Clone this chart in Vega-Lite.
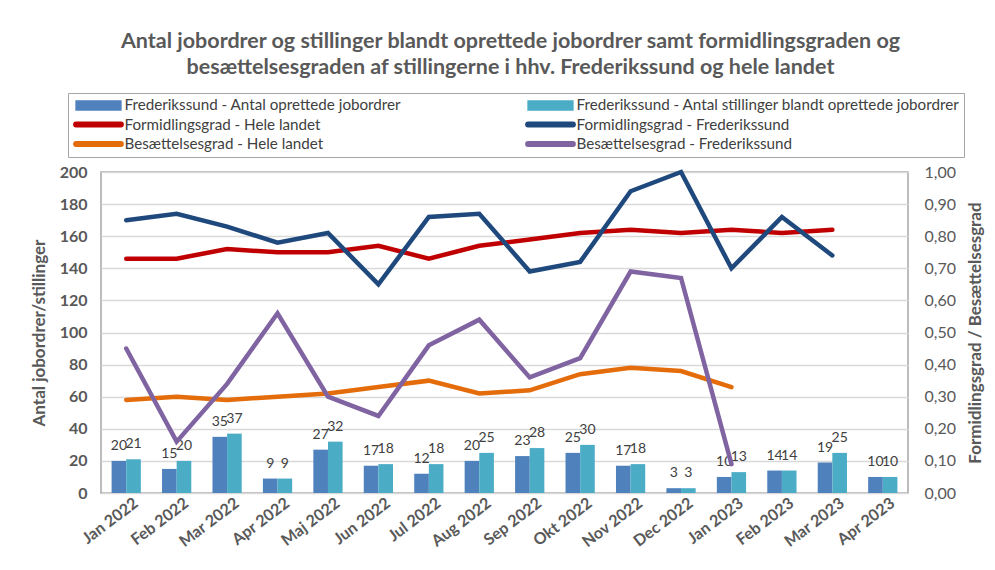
{
  "$schema": "https://vega.github.io/schema/vega-lite/v6.json",
  "width": 807,
  "height": 321,
  "autosize": "none",
  "padding": {"left": 101, "top": 172, "right": 87, "bottom": 77},
  "background": "white",
  "title": {
    "text": ["Antal jobordrer og stillinger blandt oprettede jobordrer samt formidlingsgraden  og", "besættelsesgraden af stillingerne i hhv. Frederikssund og hele landet"],
    "font": "Lato",
    "fontSize": 21.5,
    "fontWeight": "bold",
    "color": "#595959",
    "anchor": "middle",
    "lineHeight": 26,
    "offset": 14,
    "dx": 6
  },
  "config": {
    "font": "Lato",
    "view": {"stroke": "#a6a6a6", "strokeWidth": 1.5},
    "axis": {"labelColor": "#595959", "titleColor": "#595959", "labelFont": "Lato", "titleFont": "Lato"}
  },
  "datasets": {
    "bars": [
      {"m": "Jan 2022", "s": "Frederikssund - Antal oprettede jobordrer", "v": 20},
      {"m": "Feb 2022", "s": "Frederikssund - Antal oprettede jobordrer", "v": 15},
      {"m": "Mar 2022", "s": "Frederikssund - Antal oprettede jobordrer", "v": 35},
      {"m": "Apr 2022", "s": "Frederikssund - Antal oprettede jobordrer", "v": 9},
      {"m": "Maj 2022", "s": "Frederikssund - Antal oprettede jobordrer", "v": 27},
      {"m": "Jun 2022", "s": "Frederikssund - Antal oprettede jobordrer", "v": 17},
      {"m": "Jul 2022", "s": "Frederikssund - Antal oprettede jobordrer", "v": 12},
      {"m": "Aug 2022", "s": "Frederikssund - Antal oprettede jobordrer", "v": 20},
      {"m": "Sep 2022", "s": "Frederikssund - Antal oprettede jobordrer", "v": 23},
      {"m": "Okt 2022", "s": "Frederikssund - Antal oprettede jobordrer", "v": 25},
      {"m": "Nov 2022", "s": "Frederikssund - Antal oprettede jobordrer", "v": 17},
      {"m": "Dec 2022", "s": "Frederikssund - Antal oprettede jobordrer", "v": 3},
      {"m": "Jan 2023", "s": "Frederikssund - Antal oprettede jobordrer", "v": 10},
      {"m": "Feb 2023", "s": "Frederikssund - Antal oprettede jobordrer", "v": 14},
      {"m": "Mar 2023", "s": "Frederikssund - Antal oprettede jobordrer", "v": 19},
      {"m": "Apr 2023", "s": "Frederikssund - Antal oprettede jobordrer", "v": 10},
      {"m": "Jan 2022", "s": "Frederikssund - Antal stillinger blandt oprettede jobordrer", "v": 21},
      {"m": "Feb 2022", "s": "Frederikssund - Antal stillinger blandt oprettede jobordrer", "v": 20},
      {"m": "Mar 2022", "s": "Frederikssund - Antal stillinger blandt oprettede jobordrer", "v": 37},
      {"m": "Apr 2022", "s": "Frederikssund - Antal stillinger blandt oprettede jobordrer", "v": 9},
      {"m": "Maj 2022", "s": "Frederikssund - Antal stillinger blandt oprettede jobordrer", "v": 32},
      {"m": "Jun 2022", "s": "Frederikssund - Antal stillinger blandt oprettede jobordrer", "v": 18},
      {"m": "Jul 2022", "s": "Frederikssund - Antal stillinger blandt oprettede jobordrer", "v": 18},
      {"m": "Aug 2022", "s": "Frederikssund - Antal stillinger blandt oprettede jobordrer", "v": 25},
      {"m": "Sep 2022", "s": "Frederikssund - Antal stillinger blandt oprettede jobordrer", "v": 28},
      {"m": "Okt 2022", "s": "Frederikssund - Antal stillinger blandt oprettede jobordrer", "v": 30},
      {"m": "Nov 2022", "s": "Frederikssund - Antal stillinger blandt oprettede jobordrer", "v": 18},
      {"m": "Dec 2022", "s": "Frederikssund - Antal stillinger blandt oprettede jobordrer", "v": 3},
      {"m": "Jan 2023", "s": "Frederikssund - Antal stillinger blandt oprettede jobordrer", "v": 13},
      {"m": "Feb 2023", "s": "Frederikssund - Antal stillinger blandt oprettede jobordrer", "v": 14},
      {"m": "Mar 2023", "s": "Frederikssund - Antal stillinger blandt oprettede jobordrer", "v": 25},
      {"m": "Apr 2023", "s": "Frederikssund - Antal stillinger blandt oprettede jobordrer", "v": 10}
    ],
    "lines": [
      {"m": "Jan 2022", "s": "Formidlingsgrad - Hele landet", "v": 0.73},
      {"m": "Feb 2022", "s": "Formidlingsgrad - Hele landet", "v": 0.73},
      {"m": "Mar 2022", "s": "Formidlingsgrad - Hele landet", "v": 0.76},
      {"m": "Apr 2022", "s": "Formidlingsgrad - Hele landet", "v": 0.75},
      {"m": "Maj 2022", "s": "Formidlingsgrad - Hele landet", "v": 0.75},
      {"m": "Jun 2022", "s": "Formidlingsgrad - Hele landet", "v": 0.77},
      {"m": "Jul 2022", "s": "Formidlingsgrad - Hele landet", "v": 0.73},
      {"m": "Aug 2022", "s": "Formidlingsgrad - Hele landet", "v": 0.77},
      {"m": "Sep 2022", "s": "Formidlingsgrad - Hele landet", "v": 0.79},
      {"m": "Okt 2022", "s": "Formidlingsgrad - Hele landet", "v": 0.81},
      {"m": "Nov 2022", "s": "Formidlingsgrad - Hele landet", "v": 0.82},
      {"m": "Dec 2022", "s": "Formidlingsgrad - Hele landet", "v": 0.81},
      {"m": "Jan 2023", "s": "Formidlingsgrad - Hele landet", "v": 0.82},
      {"m": "Feb 2023", "s": "Formidlingsgrad - Hele landet", "v": 0.81},
      {"m": "Mar 2023", "s": "Formidlingsgrad - Hele landet", "v": 0.82},
      {"m": "Jan 2022", "s": "Formidlingsgrad - Frederikssund", "v": 0.85},
      {"m": "Feb 2022", "s": "Formidlingsgrad - Frederikssund", "v": 0.87},
      {"m": "Mar 2022", "s": "Formidlingsgrad - Frederikssund", "v": 0.83},
      {"m": "Apr 2022", "s": "Formidlingsgrad - Frederikssund", "v": 0.78},
      {"m": "Maj 2022", "s": "Formidlingsgrad - Frederikssund", "v": 0.81},
      {"m": "Jun 2022", "s": "Formidlingsgrad - Frederikssund", "v": 0.65},
      {"m": "Jul 2022", "s": "Formidlingsgrad - Frederikssund", "v": 0.86},
      {"m": "Aug 2022", "s": "Formidlingsgrad - Frederikssund", "v": 0.87},
      {"m": "Sep 2022", "s": "Formidlingsgrad - Frederikssund", "v": 0.69},
      {"m": "Okt 2022", "s": "Formidlingsgrad - Frederikssund", "v": 0.72},
      {"m": "Nov 2022", "s": "Formidlingsgrad - Frederikssund", "v": 0.94},
      {"m": "Dec 2022", "s": "Formidlingsgrad - Frederikssund", "v": 1.0},
      {"m": "Jan 2023", "s": "Formidlingsgrad - Frederikssund", "v": 0.70},
      {"m": "Feb 2023", "s": "Formidlingsgrad - Frederikssund", "v": 0.86},
      {"m": "Mar 2023", "s": "Formidlingsgrad - Frederikssund", "v": 0.74},
      {"m": "Jan 2022", "s": "Besættelsesgrad - Hele landet", "v": 0.29},
      {"m": "Feb 2022", "s": "Besættelsesgrad - Hele landet", "v": 0.30},
      {"m": "Mar 2022", "s": "Besættelsesgrad - Hele landet", "v": 0.29},
      {"m": "Apr 2022", "s": "Besættelsesgrad - Hele landet", "v": 0.30},
      {"m": "Maj 2022", "s": "Besættelsesgrad - Hele landet", "v": 0.31},
      {"m": "Jun 2022", "s": "Besættelsesgrad - Hele landet", "v": 0.33},
      {"m": "Jul 2022", "s": "Besættelsesgrad - Hele landet", "v": 0.35},
      {"m": "Aug 2022", "s": "Besættelsesgrad - Hele landet", "v": 0.31},
      {"m": "Sep 2022", "s": "Besættelsesgrad - Hele landet", "v": 0.32},
      {"m": "Okt 2022", "s": "Besættelsesgrad - Hele landet", "v": 0.37},
      {"m": "Nov 2022", "s": "Besættelsesgrad - Hele landet", "v": 0.39},
      {"m": "Dec 2022", "s": "Besættelsesgrad - Hele landet", "v": 0.38},
      {"m": "Jan 2023", "s": "Besættelsesgrad - Hele landet", "v": 0.33},
      {"m": "Jan 2022", "s": "Besættelsesgrad - Frederikssund", "v": 0.45},
      {"m": "Feb 2022", "s": "Besættelsesgrad - Frederikssund", "v": 0.16},
      {"m": "Mar 2022", "s": "Besættelsesgrad - Frederikssund", "v": 0.34},
      {"m": "Apr 2022", "s": "Besættelsesgrad - Frederikssund", "v": 0.56},
      {"m": "Maj 2022", "s": "Besættelsesgrad - Frederikssund", "v": 0.30},
      {"m": "Jun 2022", "s": "Besættelsesgrad - Frederikssund", "v": 0.24},
      {"m": "Jul 2022", "s": "Besættelsesgrad - Frederikssund", "v": 0.46},
      {"m": "Aug 2022", "s": "Besættelsesgrad - Frederikssund", "v": 0.54},
      {"m": "Sep 2022", "s": "Besættelsesgrad - Frederikssund", "v": 0.36},
      {"m": "Okt 2022", "s": "Besættelsesgrad - Frederikssund", "v": 0.42},
      {"m": "Nov 2022", "s": "Besættelsesgrad - Frederikssund", "v": 0.69},
      {"m": "Dec 2022", "s": "Besættelsesgrad - Frederikssund", "v": 0.67},
      {"m": "Jan 2023", "s": "Besættelsesgrad - Frederikssund", "v": 0.09}
    ]
  },
  "layer": [
    {
      "data": {"name": "bars"},
      "mark": {"type": "bar"},
      "encoding": {
        "x": {
          "field": "m",
          "type": "nominal",
          "sort": ["Jan 2022","Feb 2022","Mar 2022","Apr 2022","Maj 2022","Jun 2022","Jul 2022","Aug 2022","Sep 2022","Okt 2022","Nov 2022","Dec 2022","Jan 2023","Feb 2023","Mar 2023","Apr 2023"],
          "scale": {"paddingInner": 0.42, "paddingOuter": 0.21},
          "axis": {
            "title": null,
            "labelAngle": -37,
            "labelAlign": "right",
            "labelBaseline": "middle",
            "labelFontSize": 16,
            "labelFontWeight": "bold",
            "labelPadding": 8,
            "labelOffset": 10,
            "ticks": false,
            "domain": false,
            "grid": false
          }
        },
        "xOffset": {"field": "s", "type": "nominal", "scale": {"domain": ["Frederikssund - Antal oprettede jobordrer", "Frederikssund - Antal stillinger blandt oprettede jobordrer"], "paddingInner": 0, "paddingOuter": 0}},
        "y": {
          "field": "v",
          "type": "quantitative",
          "scale": {"domain": [0, 200], "nice": false},
          "axis": {
            "title": "Antal jobordrer/stillinger",
            "titleFontSize": 17,
            "titleFontWeight": "bold",
            "titlePadding": 11,
            "values": [0,20,40,60,80,100,120,140,160,180,200],
            "labelFontSize": 16,
            "labelFontWeight": "bold",
            "labelPadding": 14,
            "ticks": false,
            "domain": false,
            "grid": true,
            "gridColor": "#d9d9d9",
            "gridWidth": 1.5
          }
        },
        "color": {
          "field": "s",
          "type": "nominal",
          "scale": {
            "domain": ["Frederikssund - Antal oprettede jobordrer", "Frederikssund - Antal stillinger blandt oprettede jobordrer", "Formidlingsgrad - Hele landet", "Formidlingsgrad - Frederikssund", "Besættelsesgrad - Hele landet", "Besættelsesgrad - Frederikssund"],
            "range": ["#4f81bd", "#4bacc6", "#c00000", "#1f497d", "#e46c0a", "#8064a2"]
          },
          "legend": {
            "title": null,
            "orient": "none",
            "legendX": -33,
            "legendY": -79,
            "direction": "horizontal",
            "columns": 2,
            "columnPadding": 120,
            "rowPadding": 2.5,
            "padding": 4,
            "strokeColor": "#a6a6a6",
            "labelFont": "Lato",
            "labelFontSize": 15.2,
            "labelColor": "#404040",
            "labelLimit": 600,
            "labelOffset": 18,
            "symbolOffset": 18.5,
            "symbolSize": 196,
            "symbolType": "M-3.2,-0.64H3.2V0.64H-3.2Z",
            "encode": {
              "symbols": {
                "update": {
                  "shape": {"signal": "indexof(datum.value, 'Antal') >= 0 ? 'M-3.2,-0.64H3.2V0.64H-3.2Z' : 'M-3.2,-0.32H3.2A0.32,0.32 0 0 1 3.2,0.32H-3.2A0.32,0.32 0 0 1 -3.2,-0.32Z'"},
                  "fill": {"scale": "color", "field": "value"}
                }
              }
            }
          }
        }
      }
    },
    {
      "data": {"name": "bars"},
      "mark": {"type": "text", "baseline": "alphabetic", "dy": -11, "fontSize": 14, "color": "#404040", "font": "Lato"},
      "encoding": {
        "x": {
          "field": "m",
          "type": "nominal",
          "sort": ["Jan 2022","Feb 2022","Mar 2022","Apr 2022","Maj 2022","Jun 2022","Jul 2022","Aug 2022","Sep 2022","Okt 2022","Nov 2022","Dec 2022","Jan 2023","Feb 2023","Mar 2023","Apr 2023"]
        },
        "xOffset": {"field": "s", "type": "nominal", "scale": {"domain": ["Frederikssund - Antal oprettede jobordrer", "Frederikssund - Antal stillinger blandt oprettede jobordrer"], "paddingInner": 0, "paddingOuter": 0}},
        "y": {"field": "v", "type": "quantitative", "scale": {"domain": [0, 200], "nice": false}, "axis": null},
        "text": {"field": "v", "type": "quantitative"}
      }
    },
    {
      "data": {"name": "lines"},
      "mark": {"type": "line", "strokeWidth": 4.5, "strokeCap": "round"},
      "encoding": {
        "x": {
          "field": "m",
          "type": "nominal",
          "sort": ["Jan 2022","Feb 2022","Mar 2022","Apr 2022","Maj 2022","Jun 2022","Jul 2022","Aug 2022","Sep 2022","Okt 2022","Nov 2022","Dec 2022","Jan 2023","Feb 2023","Mar 2023","Apr 2023"]
        },
        "y": {
          "field": "v",
          "type": "quantitative",
          "scale": {"domain": [0, 1], "nice": false},
          "axis": {
            "orient": "right",
            "title": "Formidlingsgrad / Besættelsesgrad",
            "titleAngle": -90,
            "titleFontSize": 17,
            "titleFontWeight": "bold",
            "titlePadding": 29,
            "values": [0,0.1,0.2,0.3,0.4,0.5,0.6,0.7,0.8,0.9,1.0],
            "labelExpr": "replace(format(datum.value, '.2f'), '.', ',')",
            "labelFontSize": 16,
            "labelPadding": 16,
            "ticks": false,
            "domain": false,
            "grid": false
          }
        },
        "color": {"field": "s", "type": "nominal"}
      }
    }
  ],
  "resolve": {"scale": {"y": "independent"}}
}
